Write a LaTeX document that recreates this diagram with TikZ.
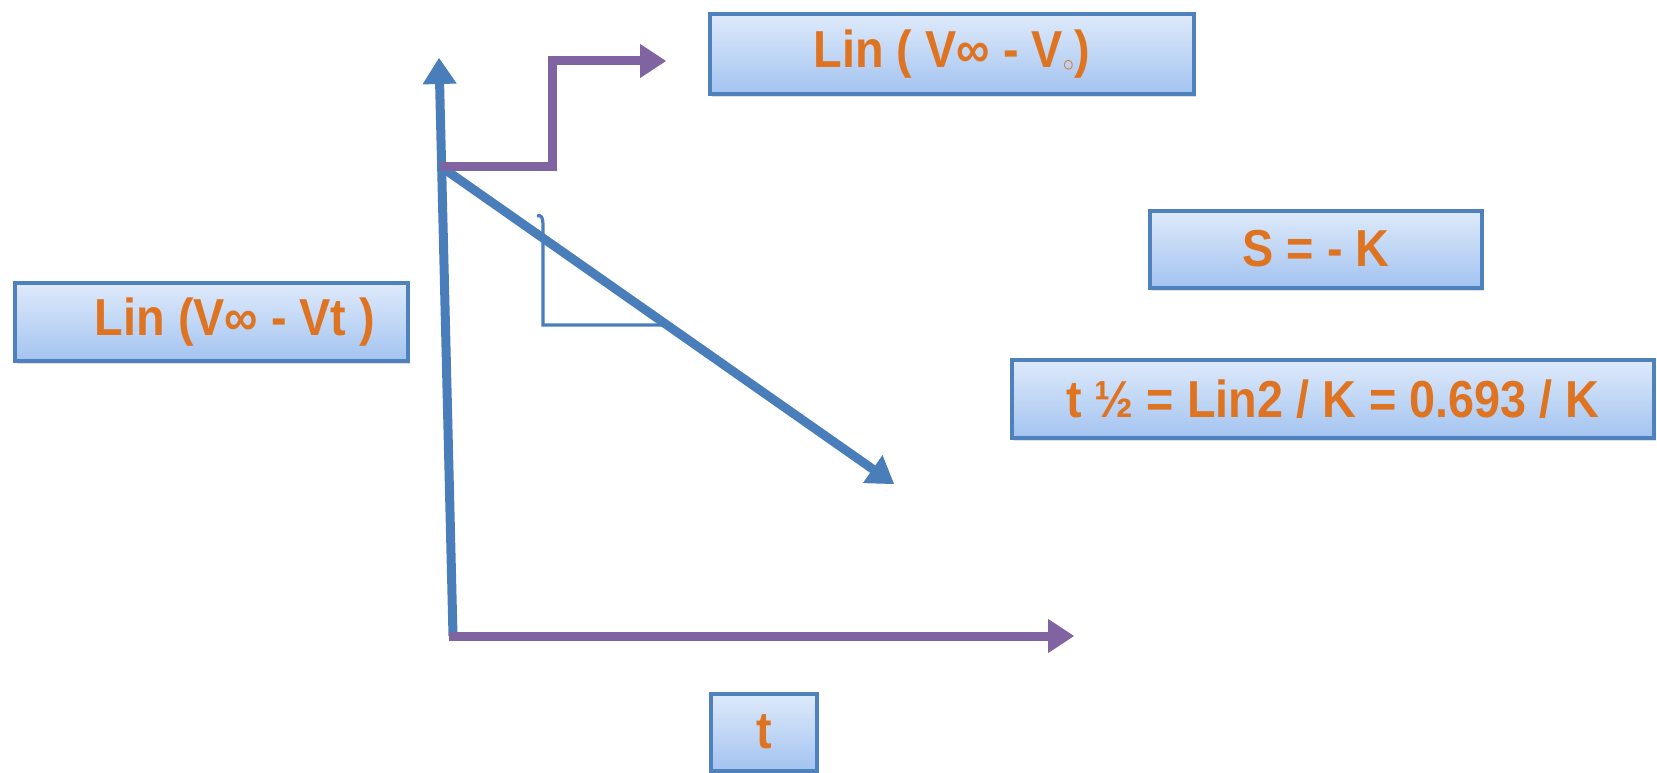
\documentclass[tikz,border=0pt]{standalone}
\usepackage{fontspec}
\usepackage{graphicx}
\setmainfont{Liberation Sans}
\usetikzlibrary{arrows.meta,shadows}
\definecolor{axisblue}{RGB}{74,126,187}
\definecolor{axispurple}{RGB}{128,100,162}
\definecolor{boxborder}{RGB}{79,129,189}
\definecolor{boxtop}{RGB}{222,234,251}
\definecolor{boxbot}{RGB}{163,195,240}
\definecolor{txtorange}{RGB}{222,116,34}
\newcommand{\lbl}[1]{\scalebox{0.9}[1]{#1}}
\tikzset{
  formbox/.style={draw=boxborder, line width=4pt, top color=boxtop, bottom color=boxbot,
    inner sep=0pt, text=txtorange, font=\fontsize{52}{60}\selectfont\bfseries,
    drop shadow={opacity=0.25, shadow xshift=2pt, shadow yshift=-3pt}},
  blueaxis/.style={color=axisblue, line width=9pt, line cap=butt,
    -{Triangle[length=26pt,width=34pt,line width=1pt,fill=axisblue]}},
  purpleaxis/.style={color=axispurple, line width=9pt, line cap=butt,
    -{Triangle[length=26pt,width=34pt,line width=1pt,fill=axispurple]}},
  slopeline/.style={draw=axisblue, line width=3.2pt}
}
\begin{document}
\begin{tikzpicture}[x=1pt,y=1pt]
\useasboundingbox (0,0) rectangle (1657,-773);
% coordinates (pixel positions, y downwards as negative)
\coordinate (O) at (453,-636);
\coordinate (Ytop) at (439,-58);
\coordinate (P) at (440,-166);
\coordinate (D) at (894,-484);
\coordinate (X) at (1074,-636);
\coordinate (S1) at (552,-166);
\coordinate (S2) at (552,-61);
\coordinate (S3) at (666,-61);
\coordinate (T0) at (537,-216);
\coordinate (T1) at (543,-224);
\coordinate (T2) at (543,-325);
\coordinate (T3) at (664,-325);
% boxes
\node[formbox, minimum width=484pt, minimum height=80pt] (lin0) at (952,-54) {\lbl{Lin ( V∞ - V$_{\circ}$)}};
\node[formbox, minimum width=393pt, minimum height=78pt] (linvt) at (211,-322) {\hspace*{48pt}\lbl{Lin (V∞ - Vt )}};
\node[formbox, minimum width=332pt, minimum height=77pt] (slope) at (1316,-249) {\lbl{S = - K}};
\node[formbox, minimum width=642pt, minimum height=78pt] (half) at (1333,-399) {\lbl{t ½ = Lin2 / K = 0.693 / K}};
\node[formbox, minimum width=106pt, minimum height=77pt] (tbox) at (764,-732) {\lbl{t}};
% axes and lines
\draw[blueaxis] (O) -- (Ytop);
\draw[blueaxis] (P) -- (D);
\draw[slopeline] (T0) .. controls (541,-214) and (543,-218) .. (T1) -- (T2) -- (T3);
\draw[purpleaxis] (P) -- (S1) -- (S2) -- (S3);
\draw[purpleaxis] ([xshift=-4.5pt]O) -- (X);
\end{tikzpicture}
\end{document}
